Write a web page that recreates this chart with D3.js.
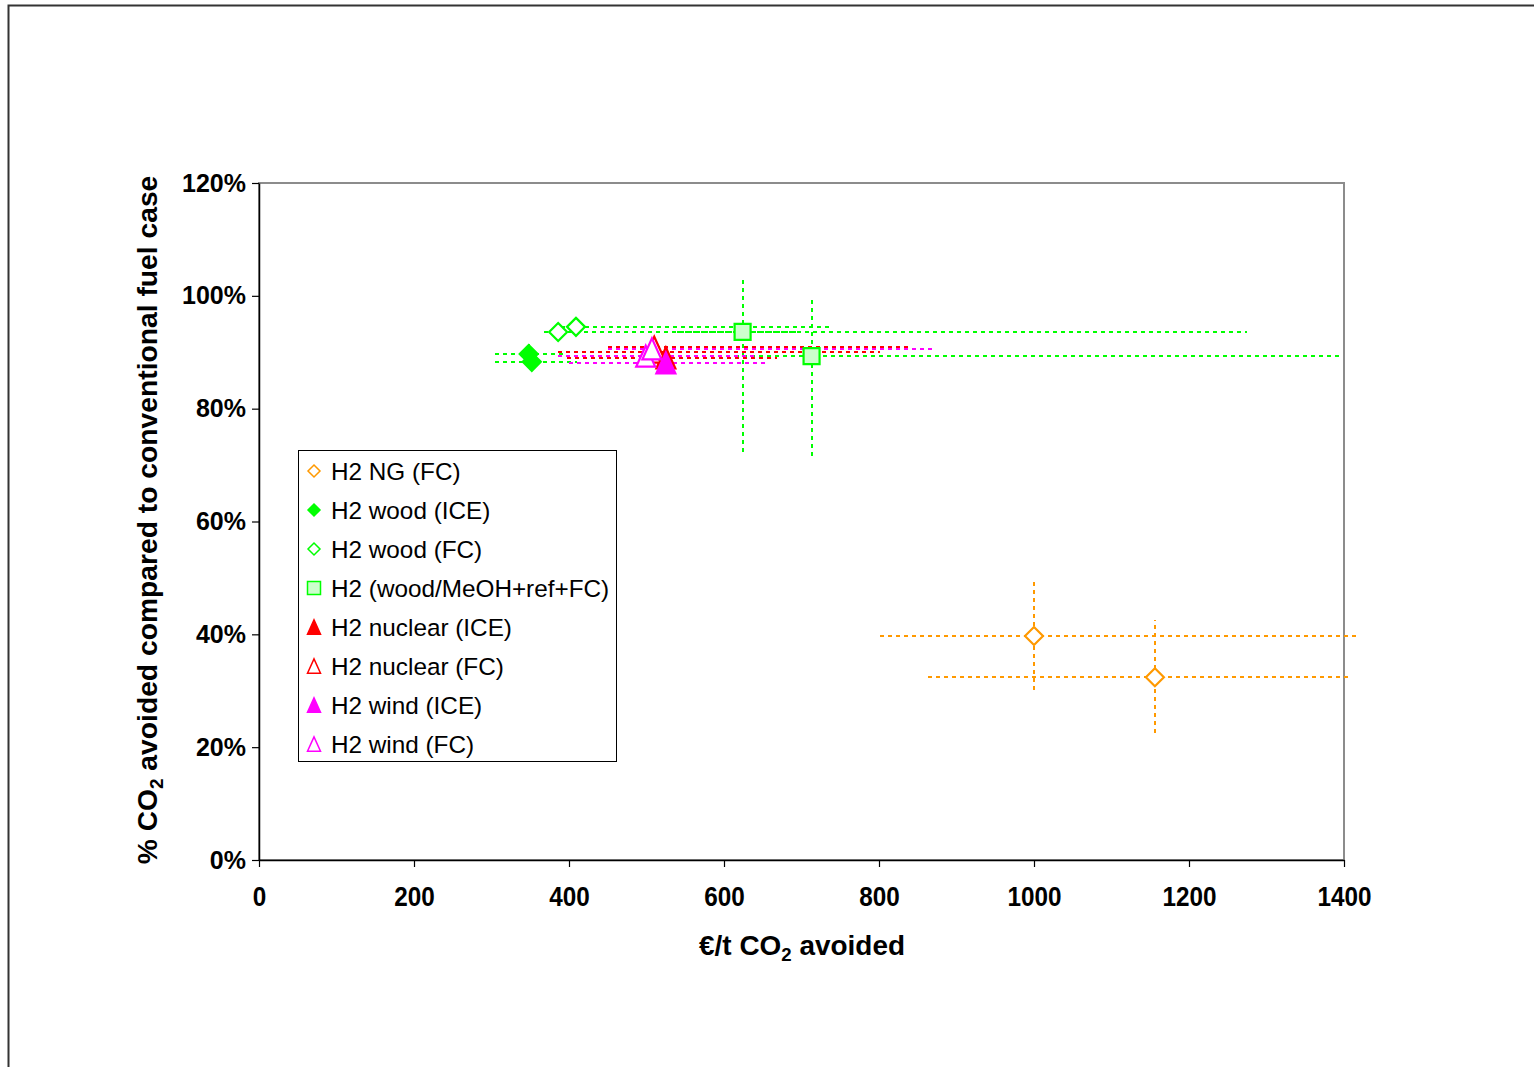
<!DOCTYPE html>
<html>
<head>
<meta charset="utf-8">
<title>CO2 avoided vs cost</title>
<script src="https://cdn.jsdelivr.net/npm/d3@7"></script>
<style>
  body { margin: 0; background: #fff; }
  svg { display: block; font-family: "Liberation Sans", Arial, sans-serif; }
</style>
</head>
<body>
<svg id="chart" width="1534" height="1067"></svg>
<script>
// each row: cost (€/t), % avoided, cost low, cost high, % low, % high (null = no bar)
const ngFc      = [[1000, 39.7, 801, 1415, 30.1, 49.8], [1156, 32.4, 863, 1408, 22.5, 42.5]];
const woodIce   = [[348, 89.7, 305, 393, 88.0, 91.6], [352, 88.3, 305, 410, null, null]];
const woodFc    = [[386, 93.6, 368, 698, null, null], [409, 94.5, 390, 741, null, null]];
const woodMeoh  = [[624, 93.6, 539, 1275, 72.3, 103.5], [713, 89.3, 614, 1395, 71.6, 99.4]];
const nuclIce   = [[525, 89.0, 397, 668, null, null]];
const nuclFc    = [[506, 90.0, 386, 801, null, null], [510, 90.9, 450, 843, null, null]];
const windIce   = [[525, 88.1, 400, 653, null, null]];
const windFc    = [[499, 89.3, 386, 640, null, null], [507, 90.6, 450, 870, null, null]];

const seriesNames = ["H2 NG (FC)", "H2 wood (ICE)", "H2 wood (FC)", "H2 (wood/MeOH+ref+FC)",
                     "H2 nuclear (ICE)", "H2 nuclear (FC)", "H2 wind (ICE)", "H2 wind (FC)"];
const xTicks = [0, 200, 400, 600, 800, 1000, 1200, 1400];
const yTicks = [0, 20, 40, 60, 80, 100, 120];

// styles per series
const series = [
  { data: ngFc,     color: "#ff9900", shape: "diamond",  fill: "#fff" },
  { data: woodIce,  color: "#00ff00", shape: "diamond",  fill: "#00ff00" },
  { data: woodFc,   color: "#00ff00", shape: "diamond",  fill: "#fff" },
  { data: woodMeoh, color: "#00ff00", shape: "square",   fill: "#ccffcc" },
  { data: nuclIce,  color: "#ff0000", shape: "triangle", fill: "#ff0000" },
  { data: nuclFc,   color: "#ff0000", shape: "triangle", fill: "#fff" },
  { data: windIce,  color: "#ff00ff", shape: "triangle", fill: "#ff00ff" },
  { data: windFc,   color: "#ff00ff", shape: "triangle", fill: "#fff" }
].map((s, i) => Object.assign(s, { name: seriesNames[i] }));

const svg = d3.select("#chart");
const plot = { left: 259, right: 1344, top: 183, bottom: 860 };

const x = d3.scaleLinear().domain([0, 1400]).range([plot.left, plot.right]);
const y = d3.scaleLinear().domain([0, 120]).range([plot.bottom, plot.top]);

// outer frame of the picture
svg.append("path")
  .attr("d", "M8.5,1067 V5.5 H1534")
  .attr("fill", "none")
  .attr("stroke", "#333")
  .attr("stroke-width", 2);

// plot area border
svg.append("rect")
  .attr("x", plot.left).attr("y", plot.top)
  .attr("width", plot.right - plot.left).attr("height", plot.bottom - plot.top)
  .attr("fill", "none")
  .attr("stroke", "#8c8c8c")
  .attr("stroke-width", 2);

// axes
const yAxis = d3.axisLeft(y).tickValues(yTicks).tickSize(7).tickSizeOuter(0).tickPadding(6)
  .tickFormat(d => d + "%");
const xAxis = d3.axisBottom(x).tickValues(xTicks).tickSize(7).tickSizeOuter(0).tickPadding(20)
  .tickFormat(d3.format("d"));

const gy = svg.append("g").attr("transform", "translate(" + plot.left + ",0)").call(yAxis);
const gx = svg.append("g").attr("transform", "translate(0," + plot.bottom + ")").call(xAxis);
[gx, gy].forEach(g => {
  g.select(".domain").attr("stroke", "#000").attr("stroke-width", 1.5);
  g.selectAll(".tick line").attr("stroke", "#000").attr("stroke-width", 1.2);
  g.selectAll("text")
    .attr("fill", "#000")
    .style("font-family", "'Liberation Sans', Arial, sans-serif")
    .style("font-weight", "bold");
});
gy.selectAll("text").style("font-size", "25px");
gx.selectAll("text").style("font-size", "27px")
  .attr("transform", function() {
    const b = this.getBBox();
    const cx = b.x + b.width / 2;
    return "translate(" + cx + ",0) scale(0.9,1) translate(" + (-cx) + ",0)";
  });

// axis titles, squeezed horizontally like the original
function squeeze(text, target) {
  const w = text.node().getBBox().width;
  return target / w;
}

const xTitle = svg.append("text")
  .attr("font-size", 27).attr("font-weight", "bold")
  .attr("text-anchor", "middle")
  .attr("x", 0).attr("y", 0);
xTitle.append("tspan").text("€/t CO");
xTitle.append("tspan").text("2").attr("font-size", 18).attr("dy", 6);
xTitle.append("tspan").text(" avoided").attr("dy", -6);
xTitle.attr("transform", "translate(802,955) scale(" + squeeze(xTitle, 206) + ",1)");

const yTitle = svg.append("text")
  .attr("font-size", 27).attr("font-weight", "bold")
  .attr("text-anchor", "middle")
  .attr("x", 0).attr("y", 0);
yTitle.append("tspan").text("% CO");
yTitle.append("tspan").text("2").attr("font-size", 18).attr("dy", 6);
yTitle.append("tspan").text(" avoided compared to conventional fuel case").attr("dy", -6);
yTitle.attr("transform", "translate(157,520) rotate(-90) scale(" + squeeze(yTitle, 689) + ",1)");

// marker path generator
function markerPath(shape, r) {
  if (shape === "diamond") return "M0," + (-r) + "L" + r + ",0L0," + r + "L" + (-r) + ",0Z";
  if (shape === "square") return "M" + (-r) + "," + (-r) + "H" + r + "V" + r + "H" + (-r) + "Z";
  const h = r * 1.1;
  return "M0," + (-h) + "L" + r + "," + h + "L" + (-r) + "," + h + "Z";
}
const plotSize = { diamond: 9, square: 8, triangle: 9.5 };
const legendSize = { diamond: 6, square: 6.5, triangle: 6.5 };

// error bars first
const bars = svg.append("g")
  .attr("fill", "none")
  .attr("stroke-width", 2)
  .attr("stroke-dasharray", "4,4")
  .attr("shape-rendering", "crispEdges");
series.forEach(s => {
  s.data.forEach(d => {
    const py = Math.round(y(d[1])), px = Math.round(x(d[0]));
    bars.append("line")
      .attr("x1", x(d[2])).attr("x2", x(d[3]))
      .attr("y1", py).attr("y2", py)
      .attr("stroke", s.color);
    if (d[4] != null) {
      bars.append("line")
        .attr("x1", px).attr("x2", px)
        .attr("y1", y(d[4])).attr("y2", y(d[5]))
        .attr("stroke", s.color);
    }
  });
});

// markers on top
const marks = svg.append("g");
series.forEach(s => {
  marks.selectAll(null)
    .data(s.data)
    .enter().append("path")
      .attr("transform", d => "translate(" + x(d[0]) + "," + y(d[1]) + ")")
      .attr("d", markerPath(s.shape, plotSize[s.shape]))
      .attr("fill", s.fill)
      .attr("stroke", s.color)
      .attr("stroke-width", 2.2)
      .attr("stroke-linejoin", "miter");
});

// legend
const legend = svg.append("g");
legend.append("rect")
  .attr("x", 298.5).attr("y", 450.5)
  .attr("width", 318).attr("height", 311)
  .attr("fill", "#fff").attr("stroke", "#000").attr("stroke-width", 1);
const items = legend.selectAll(".item")
  .data(series)
  .enter().append("g")
    .attr("class", "item")
    .attr("transform", (d, i) => "translate(314," + (471 + i * 39) + ")");
items.append("path")
  .attr("d", d => markerPath(d.shape, legendSize[d.shape]))
  .attr("fill", d => d.fill)
  .attr("stroke", d => d.color)
  .attr("stroke-width", 1.5);
items.append("text")
  .attr("x", 17).attr("dy", "0.35em")
  .attr("font-size", 24.3)
  .text(d => d.name);
</script>
</body>
</html>
